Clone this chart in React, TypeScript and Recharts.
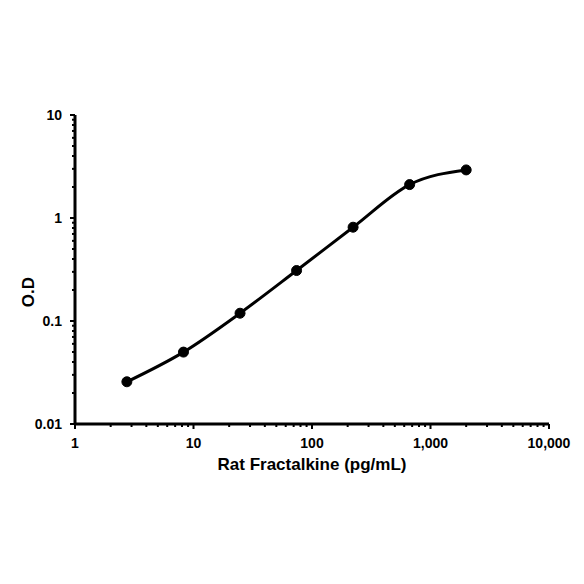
import { LineChart, Line, XAxis, YAxis, Label } from 'recharts';

// 3-fold dilution series of the standard (pg/mL) and measured O.D
const concentrations = [2.74, 8.23, 24.7, 74.1, 222.2, 666.7, 2000];
const odValues = [0.0257, 0.0499, 0.119, 0.309, 0.814, 2.11, 2.93];

const xMajorTicks = [1, 10, 100, 1000, 10000];
const xMajorLabels = ['1', '10', '100', '1,000', '10,000'];
const yMajorTicks = [0.01, 0.1, 1, 10];
const yMajorLabels = ['0.01', '0.1', '1', '10'];

const minorSteps = [2, 3, 4, 5, 6, 7, 8, 9];

const withMinors = (majors: number[]) => {
  const out: number[] = [];
  majors.forEach((m, i) => {
    out.push(m);
    if (i < majors.length - 1) minorSteps.forEach((s) => out.push(+(m * s).toPrecision(6)));
  });
  return out;
};

const xTicks = withMinors(xMajorTicks);
const yTicks = withMinors(yMajorTicks);

const data = concentrations.map((c, i) => ({ conc: c, od: odValues[i] }));

const FONT = '"Liberation Sans", Arial, sans-serif';

const majorIndex = (list: number[], v: number) => list.findIndex((m) => Math.abs(m - v) / m < 1e-6);

const XTick = ({ x, y, payload }: any) => {
  const idx = majorIndex(xMajorTicks, payload.value);
  const major = idx >= 0;
  return (
    <g>
      <line x1={x} x2={x} y1={y} y2={y + (major ? 5 : 3)} stroke="#000" strokeWidth={2} />
      {major && (
        <text x={x} y={y + 24} textAnchor="middle" fontFamily={FONT} fontWeight="bold" fontSize={14} fill="#000">
          {xMajorLabels[idx]}
        </text>
      )}
    </g>
  );
};

const YTick = ({ x, y, payload }: any) => {
  const idx = majorIndex(yMajorTicks, payload.value);
  const major = idx >= 0;
  return (
    <g>
      <line x1={x} x2={x - (major ? 5 : 3)} y1={y} y2={y} stroke="#000" strokeWidth={2} />
      {major && (
        <text x={x - 13} y={y + 5} textAnchor="end" fontFamily={FONT} fontWeight="bold" fontSize={14} fill="#000">
          {yMajorLabels[idx]}
        </text>
      )}
    </g>
  );
};

export default function App() {
  return (
    <div style={{ position: 'absolute', left: 0, top: 0, width: 584, height: 584, background: '#fff' }}>
      <LineChart width={584} height={584} data={data} margin={{ top: 115, right: 35, left: 0, bottom: 100 }}>
        <XAxis
          dataKey="conc"
          type="number"
          scale="log"
          domain={[1, 10000]}
          ticks={xTicks}
          interval={0}
          tickSize={0}
          tickMargin={0}
          tick={<XTick />}
          axisLine={{ stroke: '#000', strokeWidth: 3 }}
          height={60}
          allowDataOverflow
        >
          <Label
            content={({ viewBox }: any) => (
              <text
                x={viewBox.x + viewBox.width / 2}
                y={viewBox.y + 46}
                textAnchor="middle"
                fontFamily={FONT}
                fontWeight="bold"
                fontSize={17}
                fill="#000"
              >
                Rat Fractalkine (pg/mL)
              </text>
            )}
          />
        </XAxis>
        <YAxis
          type="number"
          scale="log"
          domain={[0.01, 10]}
          ticks={yTicks}
          interval={0}
          tickSize={0}
          tickMargin={0}
          tick={<YTick />}
          axisLine={{ stroke: '#000', strokeWidth: 3 }}
          width={75}
          allowDataOverflow
        >
          <Label
            content={({ viewBox }: any) => (
              <text
                x={viewBox.x + 34}
                y={viewBox.y + 177}
                transform={`rotate(-90 ${viewBox.x + 34} ${viewBox.y + 177})`}
                textAnchor="middle"
                fontFamily={FONT}
                fontWeight="bold"
                fontSize={17}
                fill="#000"
              >
                O.D
              </text>
            )}
          />
        </YAxis>
        <Line
          dataKey="od"
          type="monotone"
          stroke="#000"
          strokeWidth={3}
          dot={{ r: 5, fill: '#000', stroke: '#000', strokeWidth: 1 }}
          isAnimationActive={false}
        />
      </LineChart>
    </div>
  );
}
